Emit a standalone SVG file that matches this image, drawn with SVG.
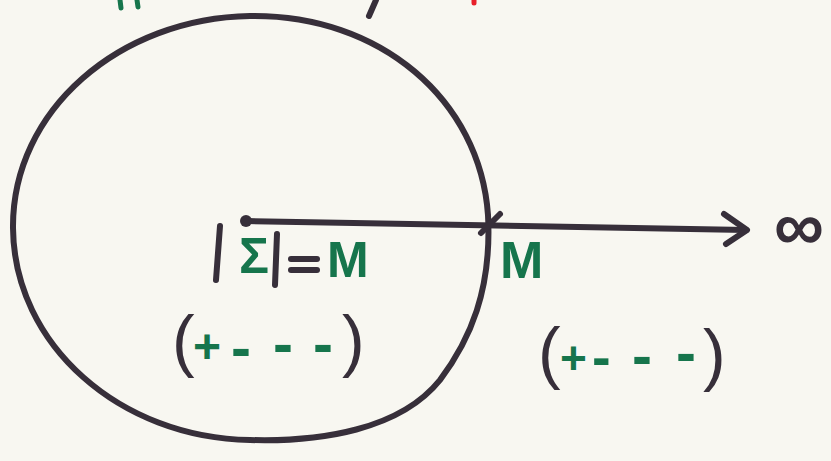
<svg xmlns="http://www.w3.org/2000/svg" width="831" height="461" viewBox="0 0 831 461">
<style>
.ink{fill:none;stroke:#372f3a;stroke-width:6;stroke-linecap:round;stroke-linejoin:round}
.g{fill:#16754c;font-family:"Liberation Sans",Arial,sans-serif;font-weight:bold}
.d{fill:#372f3a;font-family:"Liberation Sans",Arial,sans-serif}
</style>
<rect width="831" height="461" fill="#f8f7f1"/>
<g id="topmarks">
<path d="M120 0 L121 8 M137 0 L138 7" stroke="#16754c" stroke-width="5" stroke-linecap="round" fill="none"/>
<path d="M376 0 L369 16" class="ink"/>
<path d="M474 0 L474 3" stroke="#e8202a" stroke-width="5" stroke-linecap="round" fill="none"/>
</g>
<g id="circle">
<path class="ink" stroke-width="6.5" d="M250 16 C 380 14, 480 100, 488 215 C 492 290, 470 340, 440 380 C 400 430, 320 442, 250 440 C 120 438, 14 345, 13 228 C 12 110, 120 18, 250 16 Z"/>
</g>
<g id="connectors">
<line class="ink" x1="246" y1="221" x2="746" y2="230"/>
<circle cx="246" cy="221" r="6" fill="#372f3a"/>
<path class="ink" d="M724 214 L747 230 L726 244"/>
<path class="ink" d="M481 233 L500 214" stroke-width="4"/>
</g>
<g id="center-label">
<line class="ink" x1="220" y1="226" x2="216" y2="280"/>
<text class="g" x="239" y="273" font-size="50">Σ</text>
<line class="ink" x1="277" y1="234" x2="275" y2="285"/>
<line class="ink" x1="291" y1="259" x2="317" y2="259" stroke-width="7"/>
<line class="ink" x1="291" y1="270" x2="317" y2="270" stroke-width="7"/>
<text class="g" x="327" y="277" font-size="50">M</text>
</g>
<g id="boundary-label">
<text class="g" x="500" y="278" font-size="52">M</text>
</g>
<g id="inside-signature">
<text class="d" x="172" y="364" font-size="68">(</text>
<text class="g" x="193" y="363" font-size="48">+</text>
<text class="g" x="231" y="368" font-size="60">-</text>
<text class="g" x="273" y="364" font-size="60">-</text>
<text class="g" x="313" y="364" font-size="60">-</text>
<text class="d" x="342" y="364" font-size="68">)</text>
</g>
<g id="outside-signature">
<text class="d" x="538" y="376" font-size="68">(</text>
<text class="g" x="560" y="374" font-size="46">+</text>
<text class="g" x="592" y="376" font-size="56">-</text>
<text class="g" x="632" y="376" font-size="60">-</text>
<text class="g" x="676" y="373" font-size="60">-</text>
<text class="d" x="703" y="378" font-size="68">)</text>
</g>
<g id="infinity">
<text class="d" x="774" y="250" font-size="70" font-weight="bold">∞</text>
</g>
</svg>
